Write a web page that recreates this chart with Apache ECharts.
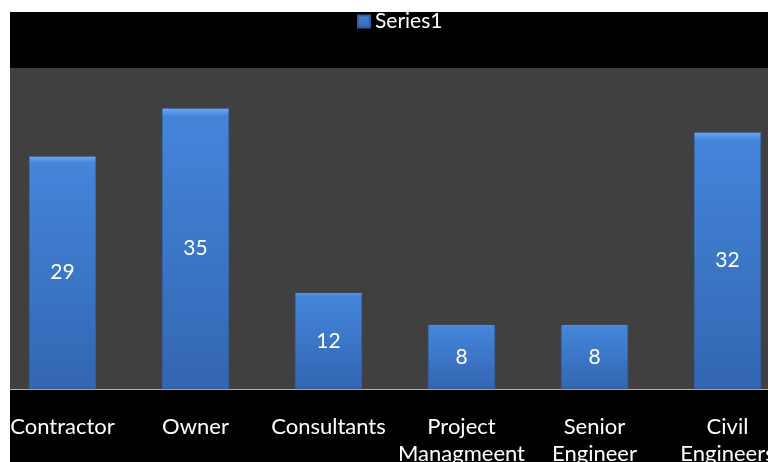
<!DOCTYPE html>
<html>
<head>
<meta charset="utf-8">
<script src="https://cdn.jsdelivr.net/npm/echarts@6/dist/echarts.min.js"></script>
<style>
  html, body { margin: 0; padding: 0; background: #ffffff; }
  #frame { position: absolute; left: 10px; top: 12px; width: 758px; height: 450px; background: #000000; overflow: hidden; }
  #chart { position: absolute; left: -14px; top: 0; width: 798px; height: 450px; }
</style>
</head>
<body>
<div id="frame"><div id="chart"></div></div>
<script>
// 数据
var categories = ['Contractor', 'Owner', 'Consultants', 'Project Managmeent', 'Senior Engineer', 'Civil Engineers'];
var series1 = [29, 35, 12, 8, 8, 32];
var seriesName = 'Series1';

var myChart = echarts.init(document.getElementById('chart'));

var barColor = new echarts.graphic.LinearGradient(0, 0, 0, 1, [
    { offset: 0, color: '#6ea8ee' },
    { offset: 0.03, color: '#4485da' },
    { offset: 1, color: '#3366b2' }
]);

var option = {
    backgroundColor: '#000000',
    animation: false,
    legend: {
        left: 356,
        top: -6,
        itemWidth: 12,
        itemHeight: 12,
        itemGap: 6,
        icon: 'rect',
        data: [seriesName],
        textStyle: {
            color: '#ffffff',
            fontSize: 21,
            fontFamily: 'Lato'
        }
    },
    grid: {
        left: 0,
        right: 0,
        top: 56,
        height: 321,
        outerBoundsMode: 'none',
        containLabel: false,
        show: true,
        backgroundColor: '#404040',
        borderWidth: 0
    },
    xAxis: {
        type: 'category',
        data: categories,
        axisTick: { show: false },
        axisLine: {
            lineStyle: { color: '#b0b0b0', width: 1 }
        },
        axisLabel: {
            interval: 0,
            margin: 24,
            color: '#ffffff',
            fontSize: 22,
            fontFamily: 'Lato',
            lineHeight: 27,
            verticalAlign: 'top',
            formatter: function (v) {
                return v.replace(' ', '\n');
            }
        }
    },
    yAxis: {
        type: 'value',
        min: 0,
        max: 40,
        show: false,
        splitLine: { show: false }
    },
    series: [{
        name: seriesName,
        type: 'bar',
        barWidth: 67,
        data: series1,
        itemStyle: {
            color: barColor,
            borderColor: '#2f5e9e',
            borderWidth: 0.5
        },
        label: {
            show: true,
            position: 'inside',
            color: '#ffffff',
            fontSize: 21,
            fontFamily: 'Lato'
        }
    }]
};

myChart.setOption(option);
</script>
</body>
</html>
